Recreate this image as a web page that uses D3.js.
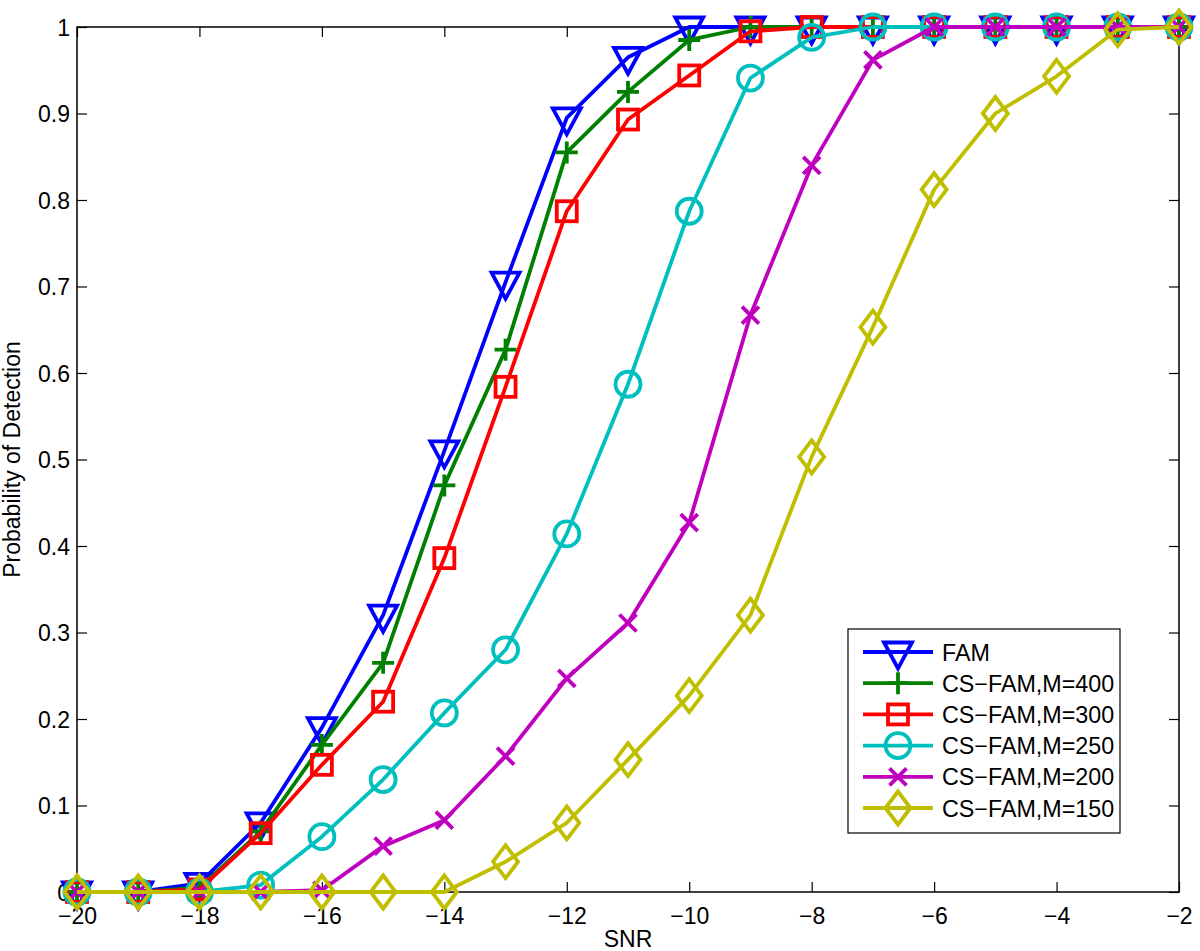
<!DOCTYPE html>
<html>
<head>
<meta charset="utf-8">
<script src="https://cdn.jsdelivr.net/npm/d3@7/dist/d3.min.js"></script>
<style>
  html, body { margin: 0; padding: 0; background: #fff; }
  svg { display: block; }
  text { font-family: "Liberation Sans", Arial, sans-serif; fill: #000; }
</style>
</head>
<body>
<svg id="chart" width="1200" height="951"></svg>
<script>
const snr = [-20, -19, -18, -17, -16, -15, -14, -13, -12, -11, -10, -9, -8, -7, -6, -5, -4, -3, -2];

const seriesNames = ["FAM", "CS\u2212FAM,M=400", "CS\u2212FAM,M=300", "CS\u2212FAM,M=250", "CS\u2212FAM,M=200", "CS\u2212FAM,M=150"];
const seriesColors = ["#0000ff", "#008000", "#ff0000", "#00bfbf", "#bf00bf", "#bfbf00"];
const seriesMarkers = ["triangleDown", "plus", "square", "circle", "x", "diamond"];

const famValues   = [0, 0, 0.01, 0.08, 0.19, 0.32, 0.51, 0.705, 0.895, 0.965, 1.0, 1, 1, 1, 1, 1, 1, 1, 1];
const m400Values  = [0, 0, 0.005, 0.07, 0.17, 0.265, 0.47, 0.627, 0.855, 0.925, 0.985, 1.0, 1, 1, 1, 1, 1, 1, 1];
const m300Values  = [0, 0, 0.003, 0.068, 0.147, 0.22, 0.386, 0.584, 0.787, 0.893, 0.944, 0.995, 1.0, 1, 1, 1, 1, 1, 1];
const m250Values  = [0, 0, 0, 0.008, 0.064, 0.13, 0.207, 0.28, 0.414, 0.587, 0.787, 0.941, 0.988, 1.0, 1, 1, 1, 1, 1];
const m200Values  = [0, 0, 0, 0, 0.002, 0.053, 0.083, 0.157, 0.247, 0.311, 0.427, 0.667, 0.84, 0.962, 1.0, 1, 1, 1, 1];
const m150Values  = [0, 0, 0, 0, 0, 0, 0, 0.035, 0.08, 0.153, 0.227, 0.32, 0.503, 0.653, 0.812, 0.9, 0.943, 0.997, 1.0];

const xTicks = [-20, -18, -16, -14, -12, -10, -8, -6, -4, -2];
const xTickLabels = ["\u221220", "\u221218", "\u221216", "\u221214", "\u221212", "\u221210", "\u22128", "\u22126", "\u22124", "\u22122"];
const yTicks = [0, 0.1, 0.2, 0.3, 0.4, 0.5, 0.6, 0.7, 0.8, 0.9, 1];
const yTickLabels = ["0", "0.1", "0.2", "0.3", "0.4", "0.5", "0.6", "0.7", "0.8", "0.9", "1"];

const xLabel = "SNR";
const yLabel = "Probability of Detection";

const allValues = [famValues, m400Values, m300Values, m250Values, m200Values, m150Values];

const L = 77, R = 1179, T = 27, B = 892;
const svg = d3.select("#chart");
const x = d3.scaleLinear().domain([-20, -2]).range([L, R]);
const y = d3.scaleLinear().domain([0, 1]).range([B, T]);

const LW = 3.8;
const tickLen = 10;
const fontSize = 23;

// axes
const xAxisB = d3.axisBottom(x).tickValues(xTicks).tickSize(-tickLen).tickPadding(16)
  .tickFormat((d, i) => xTickLabels[i]);
const gxb = svg.append("g").attr("transform", `translate(0,${B})`).call(xAxisB);
const xAxisT = d3.axisTop(x).tickValues(xTicks).tickSize(-tickLen).tickFormat("");
const gxt = svg.append("g").attr("transform", `translate(0,${T})`).call(xAxisT);
const yAxisL = d3.axisLeft(y).tickValues(yTicks).tickSize(-tickLen).tickPadding(7)
  .tickFormat((d, i) => yTickLabels[i]);
const gyl = svg.append("g").attr("transform", `translate(${L},0)`).call(yAxisL);
const yAxisR = d3.axisRight(y).tickValues(yTicks).tickSize(-tickLen).tickFormat("");
const gyr = svg.append("g").attr("transform", `translate(${R},0)`).call(yAxisR);

[gxb, gxt, gyl, gyr].forEach(g => {
  g.select(".domain").remove();
  g.selectAll(".tick line").attr("stroke", "#000").attr("stroke-width", 1.2);
  g.selectAll("text").style("font-size", fontSize + "px")
    .style("font-family", '"Liberation Sans", Arial, sans-serif').attr("fill", "#000");
});
gyl.selectAll("text").attr("dy", "0.36em");

svg.append("rect").attr("x", L).attr("y", T).attr("width", R - L).attr("height", B - T)
  .attr("fill", "none").attr("stroke", "#000").attr("stroke-width", 1.5);

// labels
svg.append("text").attr("x", (L + R) / 2).attr("y", 947).attr("text-anchor", "middle")
  .style("font-size", fontSize + "px").text(xLabel);
svg.append("text").attr("transform", `translate(20,${(T + B) / 2}) rotate(-90)`)
  .attr("text-anchor", "middle").style("font-size", fontSize + "px").text(yLabel);

// marker drawer
function drawMarker(g, type, cx, cy, color) {
  let el;
  switch (type) {
    case "triangleDown": {
      const hw = 14, top = 9.5, tip = 16.5;
      el = g.append("path").attr("d", `M${cx - hw},${cy - top}L${cx + hw},${cy - top}L${cx},${cy + tip}Z`);
      break;
    }
    case "plus": {
      const h = 11;
      el = g.append("path").attr("d", `M${cx - h},${cy}L${cx + h},${cy}M${cx},${cy - h}L${cx},${cy + h}`);
      break;
    }
    case "square": {
      const h = 10;
      el = g.append("rect").attr("x", cx - h).attr("y", cy - h).attr("width", 2 * h).attr("height", 2 * h);
      break;
    }
    case "circle": {
      el = g.append("circle").attr("cx", cx).attr("cy", cy).attr("r", 12.5);
      break;
    }
    case "x": {
      const h = 8.5;
      el = g.append("path").attr("d", `M${cx - h},${cy - h}L${cx + h},${cy + h}M${cx - h},${cy + h}L${cx + h},${cy - h}`);
      break;
    }
    case "diamond": {
      const hw = 12.5, hh = 16.5;
      el = g.append("path").attr("d", `M${cx},${cy - hh}L${cx + hw},${cy}L${cx},${cy + hh}L${cx - hw},${cy}Z`);
      break;
    }
  }
  el.attr("fill", "none").attr("stroke", color).attr("stroke-width", LW);
}

const line = d3.line().x(d => x(d[0])).y(d => y(d[1]));

allValues.forEach((vals, si) => {
  const g = svg.append("g");
  const pts = snr.map((s, i) => [s, vals[i]]);
  g.append("path").attr("d", line(pts)).attr("fill", "none")
    .attr("stroke", seriesColors[si]).attr("stroke-width", LW).attr("stroke-linejoin", "round");
  pts.forEach(p => drawMarker(g, seriesMarkers[si], x(p[0]), y(p[1]), seriesColors[si]));
});

// legend
const lg = svg.append("g");
lg.append("rect").attr("x", 848).attr("y", 629).attr("width", 272).attr("height", 204)
  .attr("fill", "#fff").attr("stroke", "#000").attr("stroke-width", 1.2);
seriesNames.forEach((name, i) => {
  const cy = 652 + i * 31.2;
  lg.append("line").attr("x1", 863).attr("x2", 933).attr("y1", cy).attr("y2", cy)
    .attr("stroke", seriesColors[i]).attr("stroke-width", LW);
  drawMarker(lg, seriesMarkers[i], 898, cy, seriesColors[i]);
  lg.append("text").attr("x", 942).attr("y", cy + 8.5).style("font-size", "23.3px").text(name);
});
</script>
</body>
</html>
